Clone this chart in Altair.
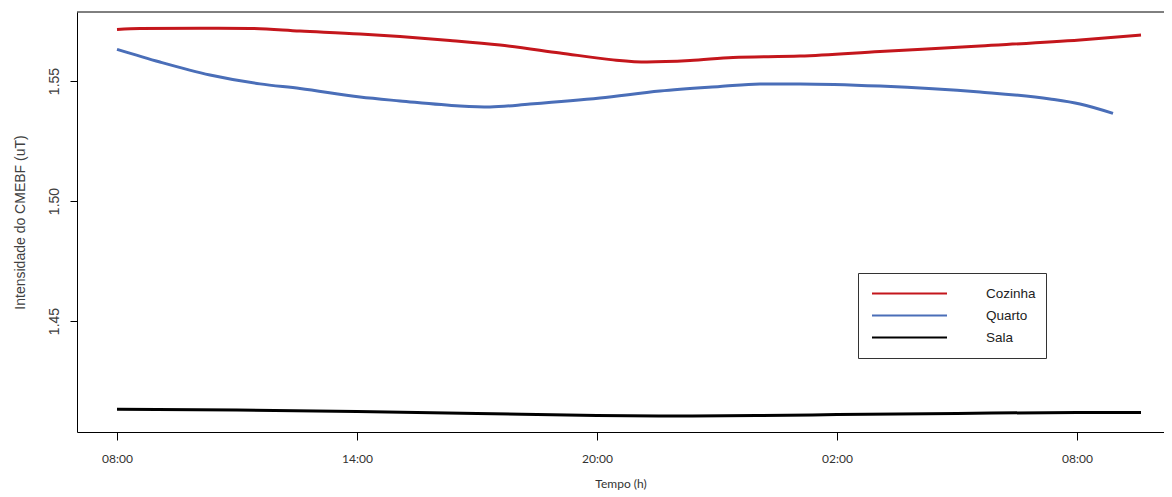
import altair as alt
import pandas as pd

# Hours elapsed since 08:00 of the first day
hours_cozinha = [0.0, 0.575, 2.075, 3.325, 4.575, 6.075, 7.075, 8.325, 9.575, 11.075,
                 12.4, 13.25, 14.325, 15.4, 17.075, 19.075, 21.575, 24.075, 25.6]
vals_cozinha = [1.5715, 1.5719, 1.5720, 1.5719, 1.5708, 1.5696, 1.5685, 1.5669, 1.5650, 1.5617,
                1.5588, 1.5579, 1.5585, 1.5598, 1.5604, 1.5623, 1.5646, 1.5671, 1.5692]

hours_quarto = [0.0, 1.075, 2.325, 3.575, 4.575, 6.075, 7.075, 8.575, 9.325, 10.325,
                12.075, 13.575, 15.075, 16.075, 17.075, 19.075, 21.575, 23.325, 24.075, 24.9]
vals_quarto = [1.5632, 1.5579, 1.5525, 1.5488, 1.5469, 1.5433, 1.5417, 1.5396, 1.5392, 1.5404,
               1.5429, 1.5458, 1.5477, 1.5488, 1.5488, 1.5479, 1.5454, 1.5425, 1.5404, 1.5365]

hours_sala = [0.0, 3.0, 6.0, 9.0, 12.0, 14.0, 16.0, 18.0, 21.0, 24.0, 25.6]
vals_sala = [1.4132, 1.4129, 1.4123, 1.4115, 1.4106, 1.4104, 1.4106, 1.4110, 1.4115, 1.4119, 1.4119]

series_names = ["Cozinha", "Quarto", "Sala"]
series_colors = ["#C4161C", "#4A6EB8", "#000000"]

tick_hours = [0, 6, 12, 18, 24]
tick_labels = ["08:00", "14:00", "20:00", "02:00", "08:00"]
y_ticks = [1.45, 1.50, 1.55]

rows = []
for name, hs, vs in [("Cozinha", hours_cozinha, vals_cozinha),
                     ("Quarto", hours_quarto, vals_quarto),
                     ("Sala", hours_sala, vals_sala)]:
    for h, v in zip(hs, vs):
        rows.append({"serie": name, "hora": h, "valor": v})
df = pd.DataFrame(rows)

label_expr = "''"
for h, lab in reversed(list(zip(tick_hours, tick_labels))):
    label_expr = f"datum.value == {h} ? '{lab}' : ({label_expr})"

W, H = 1087, 420

lines = alt.Chart(df).mark_line(strokeWidth=3, interpolate="monotone").encode(
    x=alt.X("hora:Q",
            scale=alt.Scale(domain=[-1.0, 26.175], nice=False, zero=False),
            axis=alt.Axis(values=tick_hours, labelExpr=label_expr, title="Tempo (h)",
                          grid=False, domainColor="black", tickColor="black", tickSize=8,
                          labelFont="Lato", labelFontSize=12, labelColor="#333333",
                          labelPadding=13, labelBaseline="top",
                          titleFont="Lato", titleFontSize=12, titleFontWeight="normal",
                          titleColor="#333333", titleY=55, titleBaseline="alphabetic")),
    y=alt.Y("valor:Q",
            scale=alt.Scale(domain=[1.40375, 1.57875], nice=False, zero=False),
            axis=alt.Axis(values=y_ticks, format=".2f", title="Intensidade do CMEBF (uT)",
                          grid=False, domainColor="black", tickColor="black", tickSize=7,
                          labelFont="Liberation Sans", labelFontSize=14, labelColor="#404040",
                          labelAngle=270, labelAlign="center", labelBaseline="alphabetic",
                          labelPadding=12,
                          titleFont="Liberation Sans", titleFontSize=14, titleFontWeight="normal",
                          titleColor="#404040", titleAngle=270, titleX=-53, titleY=210,
                          titleAlign="center", titleBaseline="alphabetic")),
    color=alt.Color("serie:N",
                    scale=alt.Scale(domain=series_names, range=series_colors),
                    legend=alt.Legend(title=None, orient="none", legendX=781, legendY=261,
                                      symbolType="stroke", symbolSize=5625, symbolStrokeWidth=2,
                                      clipHeight=21, rowPadding=1, symbolOffset=3,
                                      labelOffset=38, padding=10,
                                      strokeColor="#333333", fillColor="white",
                                      labelFont="Liberation Sans", labelFontSize=13.5,
                                      labelColor="#222222")),
)

top_border = alt.Chart(pd.DataFrame({"k": [0]})).mark_rule(color="black", strokeWidth=1).encode(
    x=alt.value(0), x2=alt.value(W), y=alt.value(0)
)

chart = alt.layer(lines, top_border).properties(
    width=W, height=H,
    autosize=alt.AutoSizeParams(type="none"),
    padding={"left": 69, "top": 4, "right": 0, "bottom": 60},
    background="white",
).configure_view(strokeOpacity=0)

chart.save("out.html", embed_options={"renderer": "svg", "actions": False})
